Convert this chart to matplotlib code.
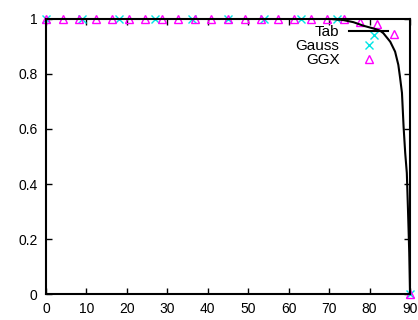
import matplotlib
matplotlib.use("Agg")
import matplotlib.pyplot as plt

plt.rcParams["font.family"] = ["Liberation Sans", "DejaVu Sans"]

# Tabulated curve
tab_deg = [0, 60, 70, 73.4, 76, 78.5, 81, 82.6, 83.4, 85.1, 86.3, 87.1, 87.5,
           88.0, 88.4, 88.8, 89.2, 89.5, 89.8, 90]
tab_val = [1, 1, 1, 0.996, 0.988, 0.975, 0.965, 0.957, 0.948, 0.917, 0.881,
           0.833, 0.79, 0.731, 0.608, 0.513, 0.44, 0.3, 0.15, 0]

# Gauss samples (every 9 degrees)
gauss_deg = [0, 9, 18, 27, 36, 45, 54, 63, 72, 81, 90]
gauss_val = [1, 1, 1, 1, 1, 1, 1, 1, 1, 0.942, 0]

# GGX samples (23 angles from 0 to 90)
ggx_deg = [90 * i / 22 for i in range(23)]
ggx_val = [1] * 18 + [0.999, 0.989, 0.982, 0.945, 0]

fig = plt.figure(figsize=(4.18, 3.2), dpi=100)
ax = fig.add_axes([0.110, 0.081, 0.871, 0.860])

ax.plot(tab_deg, tab_val, color="black", linewidth=1.5, label="Tab", zorder=3)
ax.plot(gauss_deg, gauss_val, linestyle="none", marker="x", color="#00e5e5",
        markersize=6, markeredgewidth=1.0, label="Gauss", clip_on=False)
ax.plot(ggx_deg, ggx_val, linestyle="none", marker="^", markerfacecolor="none",
        markeredgecolor="#ff00ff", markersize=6, markeredgewidth=1.0,
        label="GGX", clip_on=False)

ax.set_xlim(0, 90)
ax.set_ylim(0, 1)
ax.set_xticks(range(0, 91, 10))
ax.set_yticks([0, 0.2, 0.4, 0.6, 0.8, 1])
ax.set_yticklabels(["0", "0.2", "0.4", "0.6", "0.8", "1"])
ax.tick_params(direction="in", length=4, width=1, top=True, right=True,
               labelsize=10, pad=6)
for s in ax.spines.values():
    s.set_linewidth(1.5)

ax.legend(loc="upper right", frameon=False, markerfirst=False, fontsize=11,
          handlelength=2.6, handletextpad=0.6, labelspacing=0.0,
          borderaxespad=0.3, bbox_to_anchor=(0.97, 1.015))

fig.savefig("out.png", dpi=100)
